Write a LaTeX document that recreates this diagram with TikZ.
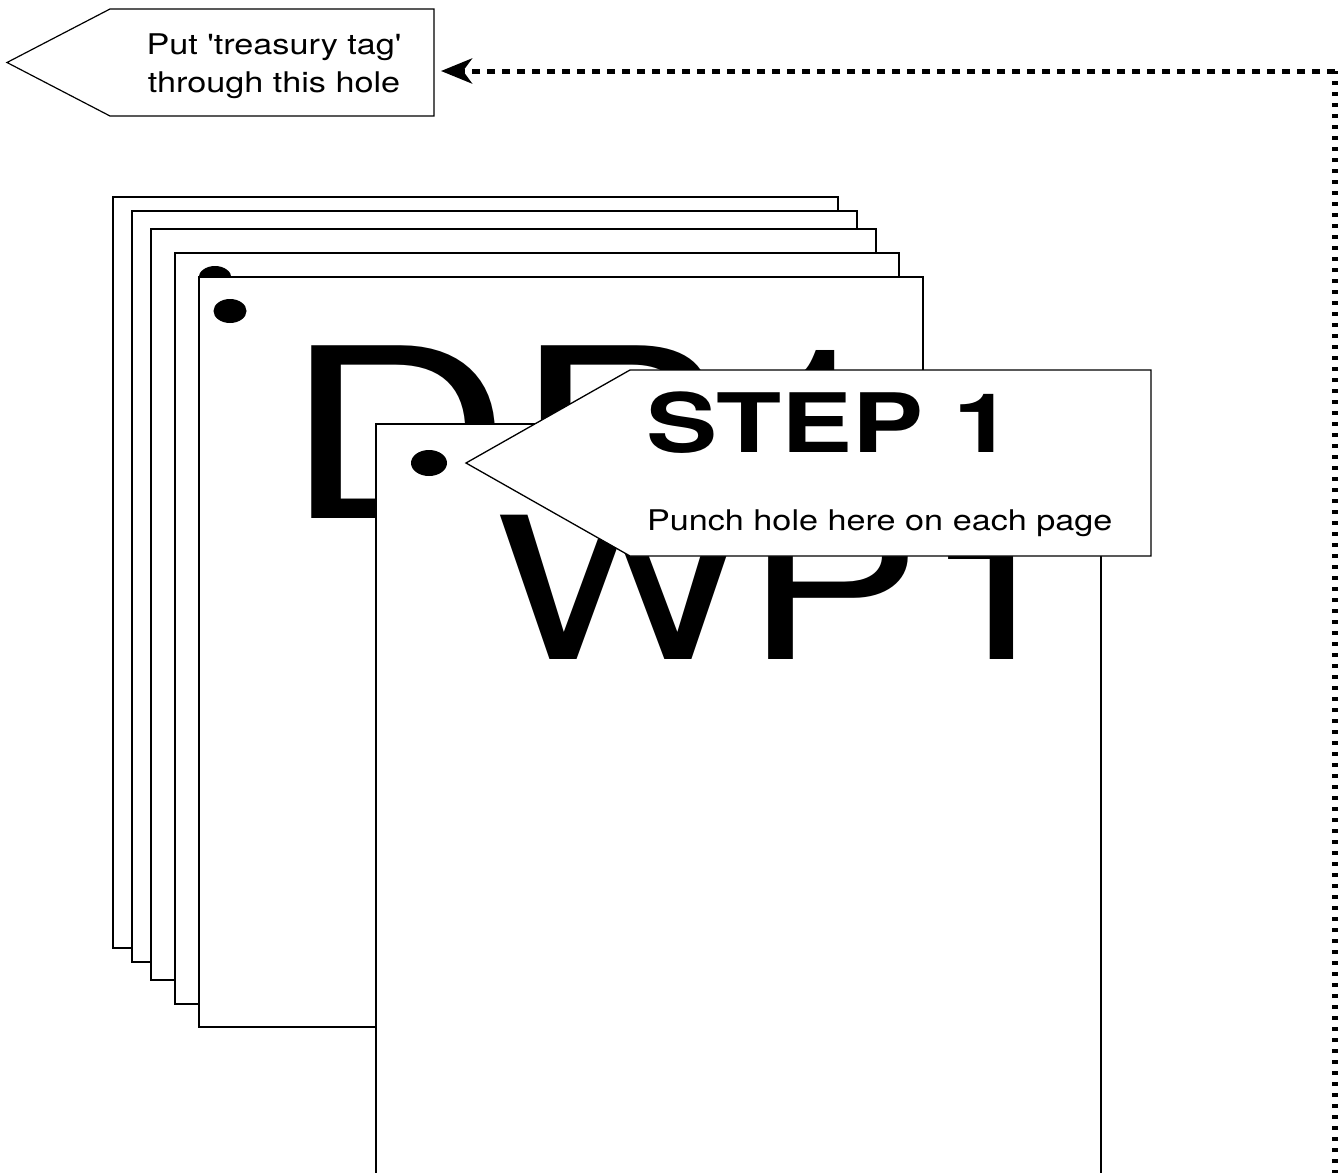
\documentclass[tikz,border=0pt]{standalone}
\usepackage{fontspec}
\setmainfont{TeX Gyre Heros}
\newfontfamily\smallf[FakeStretch=1.2]{TeX Gyre Heros}
\newfontfamily\bigf[FakeStretch=1.34]{TeX Gyre Heros}
\newfontfamily\stepf[FakeStretch=1.3]{TeX Gyre Heros}
\usetikzlibrary{arrows.meta}
\begin{document}
\begin{tikzpicture}[x=1pt,y=-1pt,
  sheet/.style={draw=black, fill=white, line width=1.9pt},
  hole/.style={fill=black},
  callout/.style={draw=black, fill=white, line width=1.3pt, line join=miter},
  txt/.style={inner sep=0pt, outer sep=0pt, anchor=base west},
  dotv/.style={draw=black, line width=6pt, dash pattern=on 4pt off 7pt},
  doth/.style={draw=black, line width=5pt, dash pattern=on 8pt off 7pt},
  tagtip/.style={-{Stealth[length=31pt,width=25pt,inset=9pt]}}]
\clip (0,0) rectangle (1342,1173);
\fill[white] (0,0) rectangle (1342,1173);

% stacked sheets, back to front
\draw[sheet] (113,197) rectangle (838,948);
\draw[sheet] (132,211) rectangle (857,962);
\draw[sheet] (151,229) rectangle (876,980);
\draw[sheet] (175,253) rectangle (899,1004);
\fill[hole] (215,278) ellipse [x radius=16.5, y radius=12];
\draw[sheet] (199,277) rectangle (923,1027);
\fill[hole] (230,311) ellipse [x radius=16.5, y radius=12];
\node[txt] (dp) at (283,518) {\bigf\fontsize{237}{240}\selectfont DP1};

% front sheet
\draw[sheet] (376,424) rectangle (1101,1200);
\node[txt] (wp) at (494,659) {\bigf\fontsize{198}{200}\selectfont WP1};
\fill[hole] (429,463) ellipse [x radius=18, y radius=13];

% STEP 1 callout
\draw[callout] (466,463) -- (630,370) -- (1151,370) -- (1151,556) -- (630,556) -- cycle;
\node[txt] (step) at (646,452) {\stepf\bfseries\fontsize{82}{84}\selectfont STEP 1};
\node[txt] (punch) at (647,530) {\smallf\fontsize{28.5}{30}\selectfont Punch hole here on each page};

% treasury tag callout
\draw[callout, line width=1.2pt] (7,62.5) -- (110,9) -- (434,9) -- (434,116) -- (110,116) -- cycle;
\node[inner sep=0pt, anchor=base] (tagA) at (274,54) {\smallf\fontsize{28.5}{30}\selectfont Put 'treasury tag'};
\node[inner sep=0pt, anchor=base] (tagB) at (274,92) {\smallf\fontsize{28.5}{30}\selectfont through this hole};

% dotted connector
\coordinate (lineStart) at (1335,1185);
\coordinate (bend) at (1335,71);
\coordinate (tagR) at (434,71);
\draw[dotv] (lineStart) -- (bend);
\draw[doth, tagtip, shorten >=7pt] (bend) -- (tagR);
\end{tikzpicture}
\end{document}
